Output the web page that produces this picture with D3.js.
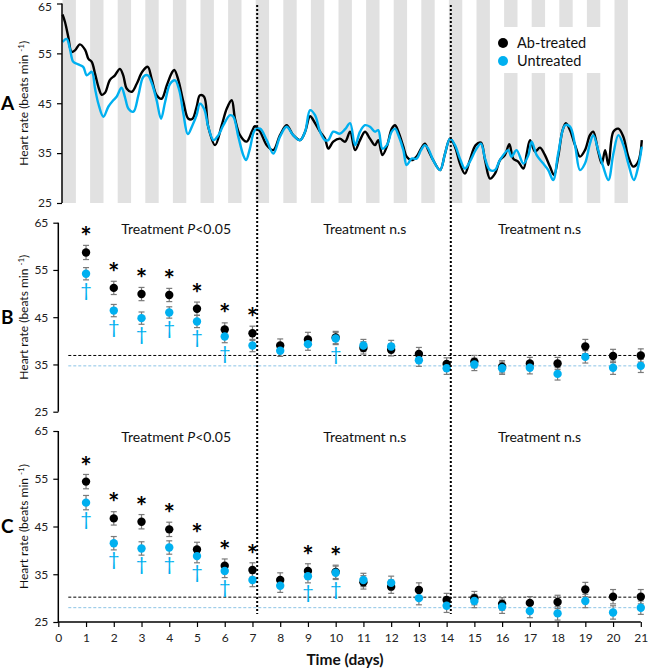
<!DOCTYPE html>
<html><head><meta charset="utf-8">
<script src="https://cdn.jsdelivr.net/npm/d3@7/dist/d3.min.js"></script>
<style>
body{margin:0;background:#fff}
svg{display:block}
text{font-family:Lato,"Open Sans",sans-serif}
</style></head>
<body><svg id="chart" width="649" height="669"></svg>
<script>
// ---------- DATA ----------
const seriesNames = ["Ab-treated", "Untreated"];
const yTicks = [25, 35, 45, 55, 65];
const xTicks = [0,1,2,3,4,5,6,7,8,9,10,11,12,13,14,15,16,17,18,19,20,21];
const days = [1,2,3,4,5,6,7,8,9,10,11,12,13,14,15,16,17,18,19,20,21];
const periodBounds = [7.17, 14.15];
const periodLabelPos = [4.25, 11.05, 17.35];
const periodLabels = ["P<0.05", "n.s", "n.s"];

// Panel A: continuous heart rate (time in days, value in beats/min)
const abTimeA = [0.00,0.09,0.21,0.33,0.45,0.63,0.82,0.94,1.06,1.18,1.30,1.42,1.54,1.72,1.90,2.08,2.20,2.33,2.51,2.69,2.89,3.09,3.23,3.41,3.59,3.78,3.96,4.05,4.20,4.38,4.56,4.71,4.86,4.98,5.13,5.28,5.53,5.77,5.95,6.13,6.25,6.43,6.67,6.86,6.97,7.16,7.40,7.64,7.88,8.12,8.36,8.61,8.79,8.97,9.15,9.33,9.51,9.63,9.81,10.05,10.24,10.42,10.60,10.78,10.96,11.14,11.32,11.44,11.59,11.75,11.93,12.05,12.17,12.35,12.47,12.65,12.83,12.99,13.13,13.25,13.43,13.68,13.86,14.04,14.22,14.40,14.58,14.76,14.97,15.16,15.31,15.49,15.67,15.85,16.03,16.19,16.33,16.51,16.70,16.82,16.94,17.12,17.30,17.48,17.66,17.81,17.96,18.12,18.24,18.39,18.57,18.75,18.93,19.11,19.23,19.41,19.54,19.66,19.78,19.96,20.14,20.32,20.50,20.68,20.86,20.99];
const abHRA = [62.8,61.3,58.3,55.3,55.6,56.8,55.7,53.9,53.3,50.9,48.3,46.7,47.1,49.7,50.6,51.9,50.6,47.9,47.3,48.9,51.3,52.3,49.9,46.6,45.9,48.6,51.1,51.7,49.6,45.3,41.9,41.9,44.3,46.6,46.3,40.3,36.6,40.6,43.9,45.6,41.9,38.6,37.3,39.3,40.4,39.3,36.6,35.6,38.6,40.6,38.6,37.6,39.3,42.4,41.0,39.3,37.9,35.9,37.3,37.9,37.3,39.3,35.6,37.6,39.3,37.9,36.6,37.6,34.6,36.3,39.9,40.6,39.3,36.3,34.3,33.6,34.3,35.9,36.9,35.6,33.6,31.6,34.9,37.9,36.3,32.9,30.9,33.6,36.6,37.1,33.6,29.9,30.9,33.6,34.6,36.8,33.9,33.3,31.9,34.9,37.6,35.3,36.1,34.6,32.3,30.6,34.3,39.6,41.0,39.6,36.6,34.3,35.6,38.6,39.3,35.3,32.9,35.6,32.6,39.3,39.9,38.3,34.3,32.3,33.3,37.6];
const unTimeA = [0.00,0.15,0.27,0.39,0.57,0.75,0.88,1.06,1.18,1.30,1.48,1.66,1.84,1.96,2.14,2.26,2.39,2.57,2.75,2.93,3.09,3.23,3.41,3.57,3.72,3.90,4.08,4.23,4.38,4.54,4.71,4.86,4.98,5.13,5.28,5.47,5.65,5.83,6.07,6.19,6.37,6.55,6.65,6.79,6.97,7.16,7.40,7.64,7.88,8.12,8.36,8.61,8.79,8.97,9.15,9.33,9.51,9.63,9.81,10.05,10.24,10.42,10.60,10.78,10.96,11.14,11.32,11.44,11.59,11.75,11.93,12.05,12.17,12.35,12.47,12.65,12.83,12.99,13.13,13.25,13.43,13.68,13.86,14.04,14.22,14.40,14.58,14.76,14.97,15.16,15.31,15.49,15.67,15.85,16.15,16.27,16.45,16.70,16.88,17.00,17.18,17.42,17.60,17.78,17.96,18.21,18.39,18.57,18.75,18.93,19.11,19.23,19.41,19.59,19.78,19.96,20.14,20.32,20.50,20.70,20.86,20.99];
const unHRA = [57.3,57.9,55.9,53.3,52.8,52.3,50.6,51.3,47.9,44.9,42.3,44.3,45.6,46.3,48.1,46.3,43.9,43.3,46.6,50.3,50.6,49.1,45.6,41.9,45.3,48.9,49.6,47.6,42.9,38.8,40.6,42.6,44.9,43.9,40.3,37.6,38.6,40.6,42.6,42.3,38.3,34.6,33.6,35.9,39.6,39.9,37.6,34.9,38.3,40.3,38.6,37.6,39.3,43.6,42.6,39.3,37.6,37.6,39.3,38.9,39.8,41.0,36.6,39.3,40.6,40.3,39.3,39.6,35.9,36.6,39.3,39.9,38.6,35.6,32.6,33.9,33.9,35.6,36.6,35.9,33.6,31.6,34.9,37.9,36.6,33.9,31.9,33.3,35.6,36.9,33.9,31.6,31.6,33.6,35.6,34.3,35.6,32.9,34.6,37.3,34.6,32.9,31.6,29.6,34.9,40.6,40.3,36.6,31.6,32.9,36.9,38.6,35.6,32.3,29.6,34.9,38.6,36.6,32.9,29.6,32.3,36.3];

// Panel B: daily means (beats/min) and SE
const abB = [58.7,51.2,49.9,49.7,46.8,42.4,41.6,39.0,40.3,40.7,38.5,38.1,37.2,35.1,35.6,34.5,35.2,35.2,38.8,36.8,36.9];
const abBErr = [1.5,1.4,1.4,1.4,1.4,1.4,1.5,1.4,1.5,1.3,1.3,1.3,1.4,1.3,1.3,1.3,1.3,1.3,1.5,1.4,1.4];
const unB = [54.2,46.4,44.8,46.0,44.1,40.9,39.0,37.9,39.3,40.5,39.0,38.8,35.9,34.2,35.0,34.2,34.3,33.0,36.6,34.3,34.7];
const unBErr = [1.3,1.3,1.3,1.2,1.3,1.3,1.3,1.2,1.3,1.3,1.3,1.3,1.3,1.3,1.3,1.3,1.3,1.3,1.3,1.4,1.4];
const starDaysB = [1,2,3,4,5,6,7];
const daggerDaysB = [1,2,3,4,5,6,10];
const baselineB = [36.9, 34.7];

// Panel C
const abC = [54.4,46.7,46.0,44.4,40.2,36.8,35.9,33.8,35.7,35.5,33.3,32.4,31.7,29.6,30.0,28.8,29.0,29.2,31.8,30.3,30.3];
const abCErr = [1.5,1.4,1.5,1.5,1.5,1.4,1.5,1.5,1.5,1.4,1.4,1.4,1.5,1.4,1.4,1.3,1.3,1.4,1.5,1.5,1.5];
const unC = [50.0,41.5,40.4,40.6,38.8,35.7,33.8,32.6,34.6,35.3,33.8,33.2,30.0,28.4,29.4,28.2,27.3,26.8,29.4,27.0,28.0];
const unCErr = [1.5,1.4,1.4,1.4,1.4,1.4,1.4,1.4,1.4,1.4,1.4,1.4,1.4,1.4,1.4,1.4,1.4,1.4,1.4,1.4,1.4];
const starDaysC = [1,2,3,4,5,6,7,9,10];
const daggerDaysC = [1,2,3,4,5,6,9,10];
const baselineC = [30.2, 28.0];

// ---------- DRAW ----------
const BLACK = "#000000", BLUE = "#00b0f0", GREY = "#e1e1e1", ERR = "#7a7a7a";
const svg = d3.select("#chart");

const xA = d3.scaleLinear().domain([0,21]).range([62.5, 642.1]);
const yA = d3.scaleLinear().domain([25,65]).range([203, 3.5]);
const xBC = d3.scaleLinear().domain([0,21]).range([58.3, 640.8]);
const yB = d3.scaleLinear().domain([25,65]).range([411.7, 222.7]);
const yC = d3.scaleLinear().domain([25,65]).range([622, 431]);

// Panel A night bars
const gA = svg.append("g");
gA.selectAll("rect.night").data(d3.range(0,21)).join("rect")
  .attr("x", d => xA(d)).attr("width", d => xA(d+0.485) - xA(d))
  .attr("y", yA(65) - 3.5).attr("height", yA(25) - yA(65) + 3.5)
  .attr("fill", GREY);

// legend white box
gA.append("rect").attr("x", xA(15.85)).attr("y", 27).attr("width", xA(19.95)-xA(15.85)).attr("height", 46).attr("fill", "#fff");

// lines A
const lineA = (t, v) => d3.line().x((d,i)=>xA(t[i])).y(d=>yA(d)).curve(d3.curveCatmullRom.alpha(0.5))(v);
gA.append("path").attr("d", lineA(abTimeA, abHRA)).attr("fill","none").attr("stroke",BLACK).attr("stroke-width",2.4).attr("stroke-linejoin","round");
gA.append("path").attr("d", lineA(unTimeA, unHRA)).attr("fill","none").attr("stroke",BLUE).attr("stroke-width",2.4).attr("stroke-linejoin","round");

// legend
const leg = gA.append("g");
seriesNames.forEach((n,i) => {
  leg.append("circle").attr("cx", 503).attr("cy", 43 + i*18).attr("r", 5).attr("fill", i ? BLUE : BLACK);
  leg.append("text").attr("x", 517).attr("y", 43 + i*18).attr("dy","0.35em").attr("font-size", 14.5).attr("fill","#111").text(n);
});

// y axes
function yAxis(scale, x, topShift) {
  const g = svg.append("g").attr("transform", `translate(${x},0)`)
    .call(d3.axisLeft(scale).tickValues(yTicks).tickSize(5).tickPadding(5).tickFormat(d3.format("d")));
  g.select(".domain").attr("stroke","#000").attr("stroke-width",1.5).attr("d", `M0,${scale(25)}V${scale(65)}`);
  g.selectAll(".tick line").attr("stroke","#000").attr("stroke-width",1.2);
  g.selectAll(".tick text").attr("font-size",12).attr("fill","#222").attr("font-family","Lato,'Open Sans',sans-serif")
    .attr("dy", d => (d === 65 && topShift) ? "0.62em" : "0.32em");
  return g;
}
yAxis(yA, 62, true);
yAxis(yB, 58.3, false);
yAxis(yC, 58.3, false);

// y titles and panel letters
[[yA,"A"],[yB,"B"],[yC,"C"]].forEach(([s, L]) => {
  const cy = (s(25)+s(65))/2;
  const t = svg.append("text").attr("transform", `translate(28,${cy}) rotate(-90)`)
    .attr("text-anchor","middle").attr("font-size",12).attr("fill","#111");
  t.append("tspan").text("Heart rate (beats min ");
  t.append("tspan").attr("dy",-4).attr("font-size",8).text("-1");
  t.append("tspan").attr("dy",4).text(")");
  svg.append("text").attr("x", 1).attr("y", cy).attr("dy","0.36em").attr("font-size",19).attr("font-weight","bold")
    .attr("font-family","'Liberation Sans',Arial,sans-serif").attr("fill","#000").text(L);
});

// x axis on C
const gx = svg.append("g").attr("transform", `translate(0,${yC(25)})`)
  .call(d3.axisBottom(xBC).tickValues(xTicks).tickSize(5).tickPadding(6).tickFormat(d3.format("d")));
gx.select(".domain").attr("stroke","#000").attr("stroke-width",1.5).attr("d", `M${xBC(0)},0H${xBC(21)}`);
gx.selectAll(".tick line").attr("stroke","#000").attr("stroke-width",1.2);
gx.selectAll(".tick text").attr("font-size",12).attr("fill","#222").attr("font-family","Lato,'Open Sans',sans-serif");
svg.append("text").attr("x", 345).attr("y", 660).attr("dy","0.35em").attr("text-anchor","middle")
  .attr("font-size",15.5).attr("font-weight","bold").attr("fill","#111").text("Time (days)");

// panels B and C
function meanPanel(y, ab, abE, un, unE, stars, daggers, base) {
  const g = svg.append("g");
  // baselines
  g.append("line").attr("x1", xBC(0.36)).attr("x2", xBC(21)).attr("y1", y(base[0])).attr("y2", y(base[0]))
    .attr("stroke","#000").attr("stroke-width",1).attr("stroke-dasharray","3,2");
  g.append("line").attr("x1", xBC(0.36)).attr("x2", xBC(21)).attr("y1", y(base[1])).attr("y2", y(base[1]))
    .attr("stroke","#8cc4e6").attr("stroke-width",1).attr("stroke-dasharray","3,2");
  // labels
  periodLabelPos.forEach((p,i) => {
    const t = g.append("text").attr("x", xBC(p)).attr("y", y(65)+6).attr("dy","0.35em")
      .attr("text-anchor","middle").attr("font-size",14).attr("fill","#111");
    t.append("tspan").text("Treatment ");
    if (periodLabels[i].startsWith("P")) {
      t.append("tspan").attr("font-style","italic").text("P");
      t.append("tspan").text(periodLabels[i].slice(1));
    } else t.append("tspan").text(periodLabels[i]);
  });
  const series = [[ab, abE, BLACK], [un, unE, BLUE]];
  series.forEach(([v, e, col]) => {
    const eg = g.append("g").attr("stroke", ERR).attr("stroke-width",1.2);
    days.forEach((d,i) => {
      const x = xBC(d);
      eg.append("line").attr("x1",x).attr("x2",x).attr("y1",y(v[i]-e[i])).attr("y2",y(v[i]+e[i]));
      eg.append("line").attr("x1",x-3).attr("x2",x+3).attr("y1",y(v[i]-e[i])).attr("y2",y(v[i]-e[i]));
      eg.append("line").attr("x1",x-3).attr("x2",x+3).attr("y1",y(v[i]+e[i])).attr("y2",y(v[i]+e[i]));
    });
  });
  series.forEach(([v, e, col]) => {
    g.selectAll(null).data(days).join("circle")
      .attr("cx", d => xBC(d)).attr("cy", (d,i) => y(v[i])).attr("r", 4.2).attr("fill", col);
  });
  g.selectAll(null).data(stars).join("text")
    .attr("x", d => xBC(d)).attr("y", d => y(ab[d-1]) - 6).attr("text-anchor","middle")
    .attr("font-size",27).attr("font-weight","bold").attr("font-family","'DejaVu Sans',sans-serif").attr("fill","#000").text("*");
  g.selectAll(null).data(daggers).join("text")
    .attr("x", d => xBC(d)).attr("y", d => y(un[d-1]) + 23).attr("text-anchor","middle")
    .attr("font-size",20).attr("font-family","'DejaVu Sans',sans-serif").attr("fill",BLUE).text("†");
}
meanPanel(yB, abB, abBErr, unB, unBErr, starDaysB, daggerDaysB, baselineB);
meanPanel(yC, abC, abCErr, unC, unCErr, starDaysC, daggerDaysC, baselineC);

// dotted period boundaries across all panels
svg.selectAll("line.bound").data(periodBounds).join("line")
  .attr("x1", d => xBC(d)).attr("x2", d => xBC(d)).attr("y1", 5).attr("y2", 614)
  .attr("stroke","#000").attr("stroke-width",2).attr("stroke-dasharray","2,2");
</script>
</body></html>
